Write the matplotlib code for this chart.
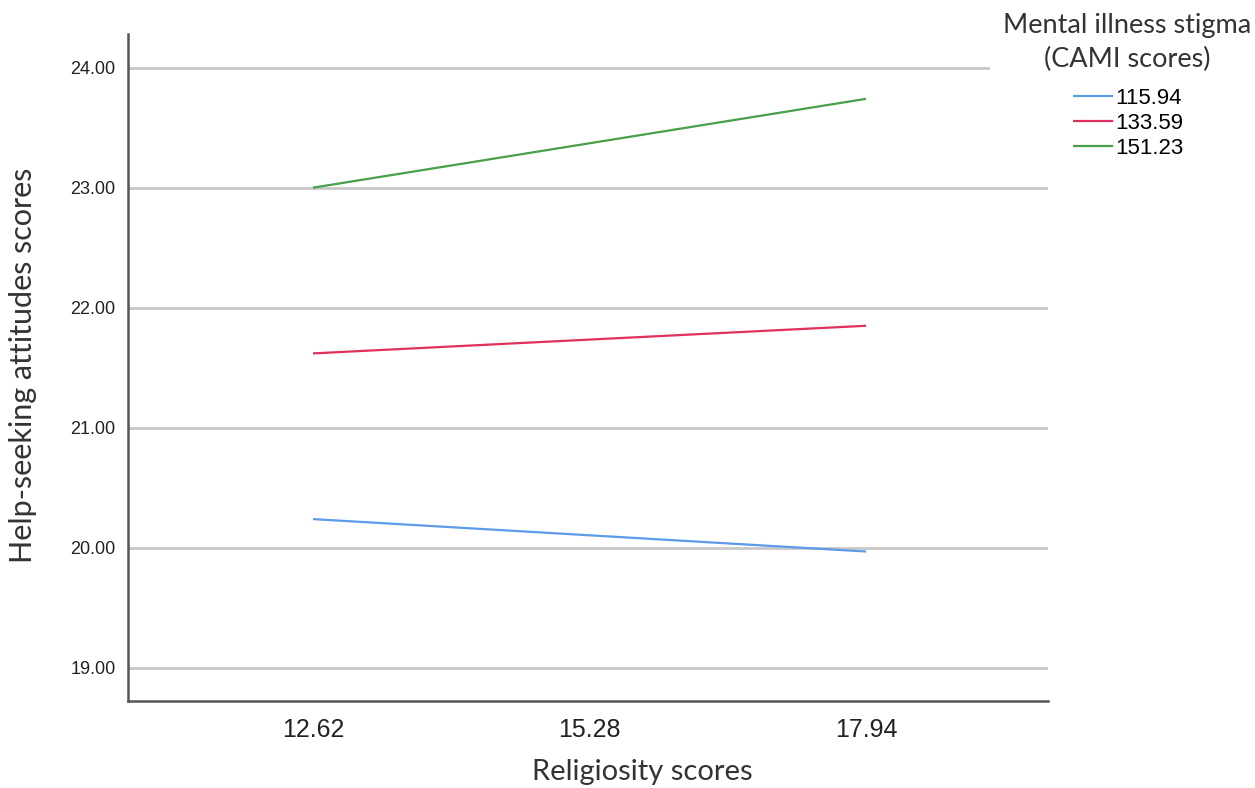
import matplotlib
matplotlib.use("Agg")
import matplotlib.pyplot as plt

# Data
x_labels = ["12.62", "15.28", "17.94"]
series_names = ["115.94", "133.59", "151.23"]
low_stigma = [20.24, 19.97]      # 115.94
mid_stigma = [21.62, 21.85]      # 133.59
high_stigma = [23.00, 23.74]     # 151.23
y_ticks = [19.0, 20.0, 21.0, 22.0, 23.0, 24.0]

colors = ["#5b9be8", "#e0305c", "#47a047"]

fig = plt.figure(figsize=(12.55, 7.88), dpi=100)
ax = fig.add_axes([128/1255, 1 - 701/788, 920/1255, (701 - 34)/788])

xpos = [0, 1, 2]
ends = [xpos[0], xpos[2]]
for vals, c, name in zip([low_stigma, mid_stigma, high_stigma], colors, series_names):
    ax.plot(ends, vals, color=c, lw=1.6, label=name, solid_capstyle="butt")

ax.set_xlim(-0.669, 2.658)
ax.set_ylim(18.725, 24.28)

# gridlines
for yv in y_ticks:
    xmax = 0.935 if yv == 24.0 else 1.0
    ax.axhline(yv, xmin=0, xmax=xmax, color="#c8c8c8", lw=2, zorder=0)

ax.set_yticks(y_ticks)
ax.set_yticklabels([f"{v:.2f}" for v in y_ticks], fontsize=13,
                   family="Liberation Sans", color="#222222")
ax.set_xticks(xpos)
ax.set_xticklabels(x_labels, fontsize=18, family="Liberation Sans", color="#222222")
ax.tick_params(axis="both", length=0)
ax.tick_params(axis="y", pad=9)
ax.tick_params(axis="x", pad=12)

for s in ["top", "right"]:
    ax.spines[s].set_visible(False)
for s in ["left", "bottom"]:
    ax.spines[s].set_color("#555555")
    ax.spines[s].set_linewidth(1.8)

fig.text(642/1255, 1 - 772/788, "Religiosity scores", fontsize=21, family="Lato",
         color="#333333", ha="center", va="center")
fig.text(23/1255, 1 - 365/788, "Help-seeking attitudes scores", fontsize=22,
         family="Lato", color="#333333", ha="center", va="center", rotation=90)

fig.text(1127/1255, 1 - 25/788, "Mental illness stigma", fontsize=19.5, family="Lato",
         color="#333333", ha="center", va="center")
fig.text(1127/1255, 1 - 59/788, "(CAMI scores)", fontsize=19.5, family="Lato",
         color="#333333", ha="center", va="center")

leg = ax.legend(loc="upper left", bbox_to_anchor=(1073/1255, 1 - 88/788),
                bbox_transform=fig.transFigure, frameon=False,
                prop={"family": "Liberation Sans", "size": 16},
                handlelength=1.8, handletextpad=0.1, labelspacing=0.18,
                borderpad=0, borderaxespad=0)

fig.savefig("out.png", dpi=100)
